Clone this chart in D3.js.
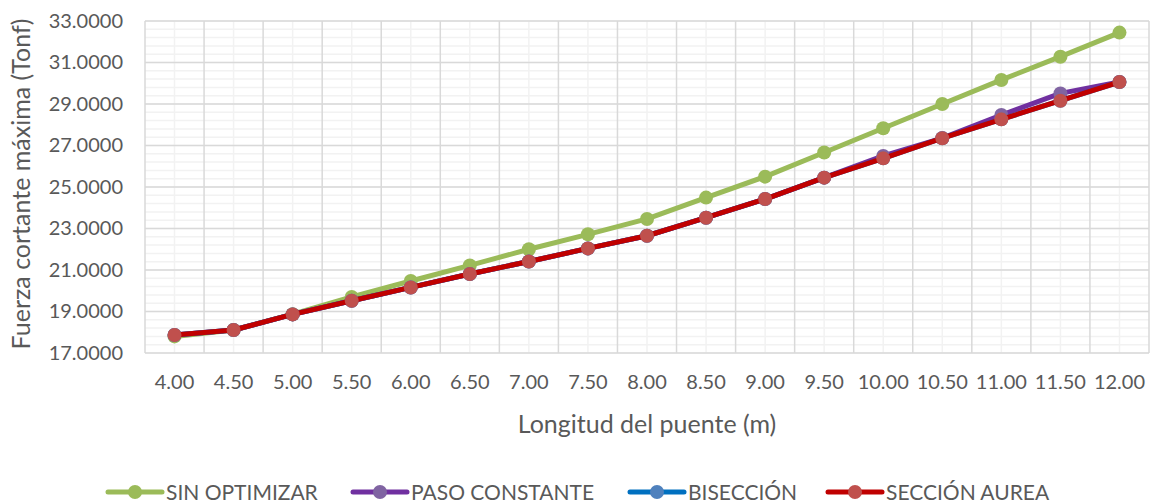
<!DOCTYPE html>
<html><head><meta charset="utf-8">
<script src="https://cdn.jsdelivr.net/npm/d3@7"></script>
<style>body{margin:0;background:#fff;} text{font-family:Lato,"Open Sans",sans-serif;fill:#595959;}</style>
</head><body>
<svg id="c" width="1152" height="504"></svg>
<script>
const categories = ["4.00","4.50","5.00","5.50","6.00","6.50","7.00","7.50","8.00","8.50","9.00","9.50","10.00","10.50","11.00","11.50","12.00"];
const sinOptimizar = [17.80,18.11,18.87,19.70,20.47,21.22,22.00,22.72,23.46,24.49,25.50,26.66,27.83,29.00,30.16,31.28,32.44];
const pasoConstante = [17.87,18.11,18.86,19.52,20.16,20.81,21.41,22.04,22.65,23.52,24.42,25.45,26.50,27.36,28.47,29.51,30.06];
const biseccion = [17.87,18.11,18.86,19.52,20.16,20.81,21.41,22.04,22.65,23.52,24.42,25.45,26.38,27.35,28.26,29.16,30.06];
const seccionAurea = [17.87,18.11,18.86,19.52,20.16,20.81,21.41,22.04,22.65,23.52,24.42,25.45,26.38,27.35,28.26,29.16,30.06];
const yTicks = [17,19,21,23,25,27,29,31,33];
const seriesNames = ["SIN OPTIMIZAR","PASO CONSTANTE","BISECCIÓN","SECCIÓN AUREA"];

const series = [
  {name:seriesNames[0], values:sinOptimizar, line:"#9BBB59", marker:"#9BBB59"},
  {name:seriesNames[1], values:pasoConstante, line:"#7030A0", marker:"#8064A2"},
  {name:seriesNames[2], values:biseccion, line:"#0070C0", marker:"#4F81BD"},
  {name:seriesNames[3], values:seccionAurea, line:"#C00000", marker:"#C0504D"}
];

const svg = d3.select("#c");
const L=145, R=1149, T=21, B=353;
const x = d3.scaleBand().domain(categories).range([L,R]).padding(0);
const y = d3.scaleLinear().domain([17,33]).range([B,T]);
const cx = c => x(c)+x.bandwidth()/2;

// minor horizontal gridlines
const minor = d3.range(17,33.001,0.4);
svg.append("g").selectAll("line").data(minor).join("line")
  .attr("x1",L).attr("x2",R).attr("y1",d=>y(d)).attr("y2",d=>y(d))
  .attr("stroke","#F2F2F2").attr("stroke-width",1.5);
// minor vertical gridlines at category centers
svg.append("g").selectAll("line").data(categories).join("line")
  .attr("x1",cx).attr("x2",cx).attr("y1",T).attr("y2",B)
  .attr("stroke","#F2F2F2").attr("stroke-width",1.5);
// major horizontal
svg.append("g").selectAll("line").data(yTicks).join("line")
  .attr("x1",L).attr("x2",R).attr("y1",d=>y(d)).attr("y2",d=>y(d))
  .attr("stroke","#D9D9D9").attr("stroke-width",1.5);
// major vertical at boundaries
const bounds = categories.map(c=>x(c)).concat([R]);
svg.append("g").selectAll("line").data(bounds).join("line")
  .attr("x1",d=>d).attr("x2",d=>d).attr("y1",T).attr("y2",B)
  .attr("stroke","#D9D9D9").attr("stroke-width",1.5);

// axes labels
const yAxis = d3.axisLeft(y).tickValues(yTicks).tickFormat(d3.format(".4f")).tickSize(0).tickPadding(22);
const gy = svg.append("g").attr("transform",`translate(${L},0)`).call(yAxis);
gy.select(".domain").remove();
gy.selectAll("text").attr("font-size",20).style("font-family","Lato").attr("fill","#595959");

const xAxis = d3.axisBottom(x).tickSize(0).tickPadding(22);
const gx = svg.append("g").attr("transform",`translate(0,${B})`).call(xAxis);
gx.select(".domain").remove();
gx.selectAll("text").attr("font-size",20).style("font-family","Lato").attr("fill","#595959");

svg.append("text").attr("x",647).attr("y",433).attr("text-anchor","middle").attr("font-size",25).text("Longitud del puente (m)");
svg.append("text").attr("transform","translate(30,184) rotate(-90)").attr("text-anchor","middle").attr("font-size",25).text("Fuerza cortante máxima (Tonf)");

// series
const line = d3.line().x((d,i)=>cx(categories[i])).y(d=>y(d));
series.forEach(s=>{
  const g = svg.append("g");
  g.append("path").datum(s.values).attr("d",line).attr("fill","none")
    .attr("stroke",s.line).attr("stroke-width",5).attr("stroke-linejoin","round").attr("stroke-linecap","round");
  g.selectAll("circle").data(s.values).join("circle")
    .attr("cx",(d,i)=>cx(categories[i])).attr("cy",d=>y(d)).attr("r",7).attr("fill",s.marker);
});

// legend
const legX = [108,353,630,828];
series.forEach((s,i)=>{
  const g = svg.append("g").attr("transform",`translate(${legX[i]},492)`);
  g.append("line").attr("x1",0).attr("x2",54).attr("y1",0).attr("y2",0).attr("stroke",s.line).attr("stroke-width",5).attr("stroke-linecap","round");
  g.append("circle").attr("cx",27).attr("cy",0).attr("r",7).attr("fill",s.marker);
  g.append("text").attr("x",58).attr("y",8).attr("font-size",21).text(s.name);
});
</script>
</body></html>
